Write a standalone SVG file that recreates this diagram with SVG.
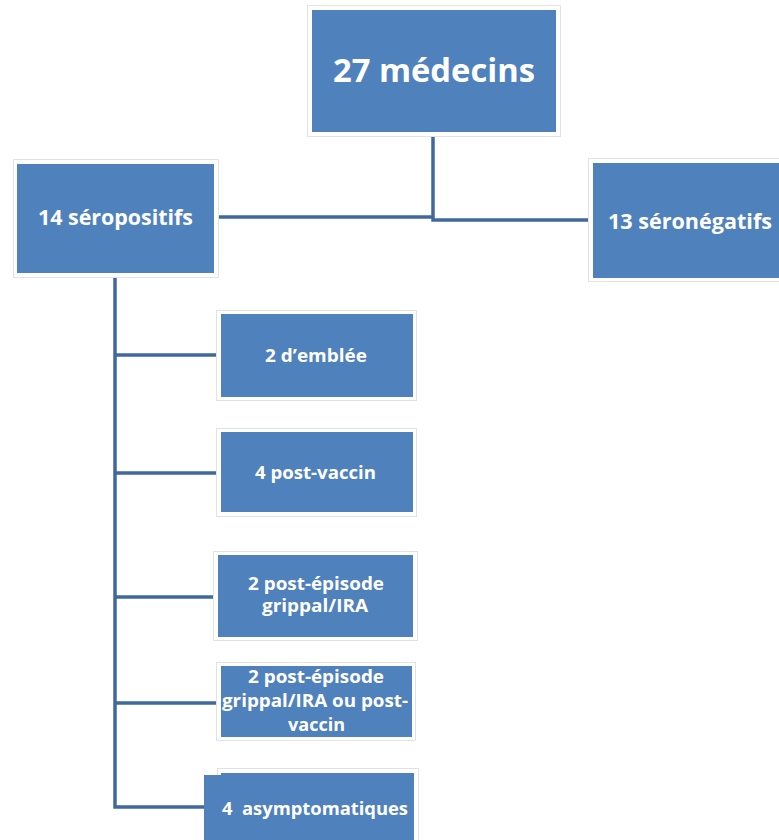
<svg xmlns="http://www.w3.org/2000/svg" width="779" height="840" viewBox="0 0 779 840">
<style>
.frame{fill:#ffffff;stroke:#e2e2e2;stroke-width:1}
.box{fill:#4f81bd}
.t{font-family:"Open Sans","Liberation Sans",sans-serif;font-weight:bold;fill:#ffffff;text-anchor:middle}
.con{fill:none;stroke:#41689c;stroke-width:3.5}
</style>
<rect width="779" height="840" fill="#ffffff"/>
<g id="connectors">
<path class="con" d="M219,217 H434 M433,137 V220 H588"/>
<path class="con" d="M115,278 V807 H204 M115,355 H216 M115,473 H216 M115,597 H213 M115,703 H216"/>
</g>
<g id="n-medecins">
<rect class="frame" x="307.500" y="5.500" width="253" height="131"/>
<rect class="box" x="312" y="10" width="244" height="122"/>
<text class="t" x="434" y="82" font-size="33" textLength="202" lengthAdjust="spacingAndGlyphs">27 médecins</text>
</g>
<g id="n-seropositifs">
<rect class="frame" x="13.500" y="159.500" width="205" height="118"/>
<rect class="box" x="17" y="164" width="197" height="109"/>
<text class="t" x="115.500" y="225" font-size="21" textLength="155" lengthAdjust="spacingAndGlyphs">14 séropositifs</text>
</g>
<g id="n-seronegatifs">
<rect class="frame" x="588.500" y="158.500" width="200" height="123"/>
<rect class="box" x="593" y="163" width="195" height="115"/>
<text class="t" x="690" y="229" font-size="21" textLength="164" lengthAdjust="spacingAndGlyphs">13 séronégatifs</text>
</g>
<g id="n-emblee">
<rect class="frame" x="216.500" y="310.500" width="200" height="90"/>
<rect class="box" x="221" y="314" width="192" height="83"/>
<text class="t" x="316" y="362" font-size="17" textLength="102" lengthAdjust="spacingAndGlyphs">2 d’emblée</text>
</g>
<g id="n-postvaccin">
<rect class="frame" x="216.500" y="428.500" width="200" height="88"/>
<rect class="box" x="221" y="432" width="192" height="80"/>
<text class="t" x="315.500" y="479" font-size="17" textLength="121" lengthAdjust="spacingAndGlyphs">4 post-vaccin</text>
</g>
<g id="n-grippal">
<rect class="frame" x="213.500" y="551.500" width="204" height="89"/>
<rect class="box" x="218" y="555" width="195" height="82"/>
<text class="t" x="316" y="590" font-size="17" textLength="136" lengthAdjust="spacingAndGlyphs">2 post-épisode</text>
<text class="t" x="315" y="612" font-size="17" textLength="106" lengthAdjust="spacingAndGlyphs">grippal/IRA</text>
</g>
<g id="n-grippal-vaccin">
<rect class="frame" x="216.500" y="662.500" width="199" height="78"/>
<rect class="box" x="221" y="666" width="191" height="71"/>
<text class="t" x="316" y="683" font-size="17" textLength="136" lengthAdjust="spacingAndGlyphs">2 post-épisode</text>
<text class="t" x="315" y="707" font-size="17" textLength="186" lengthAdjust="spacingAndGlyphs">grippal/IRA ou post-</text>
<text class="t" x="316.500" y="731" font-size="17" textLength="57" lengthAdjust="spacingAndGlyphs">vaccin</text>
</g>
<g id="n-asymptomatiques">
<rect class="frame" x="217.500" y="768.500" width="201" height="80"/>
<rect class="box" x="221" y="773" width="193" height="67"/>
<rect class="box" x="204" y="775" width="30" height="65"/>
<text class="t" x="315" y="815" font-size="17" textLength="186" lengthAdjust="spacingAndGlyphs" xml:space="preserve">4  asymptomatiques</text>
</g>
</svg>
